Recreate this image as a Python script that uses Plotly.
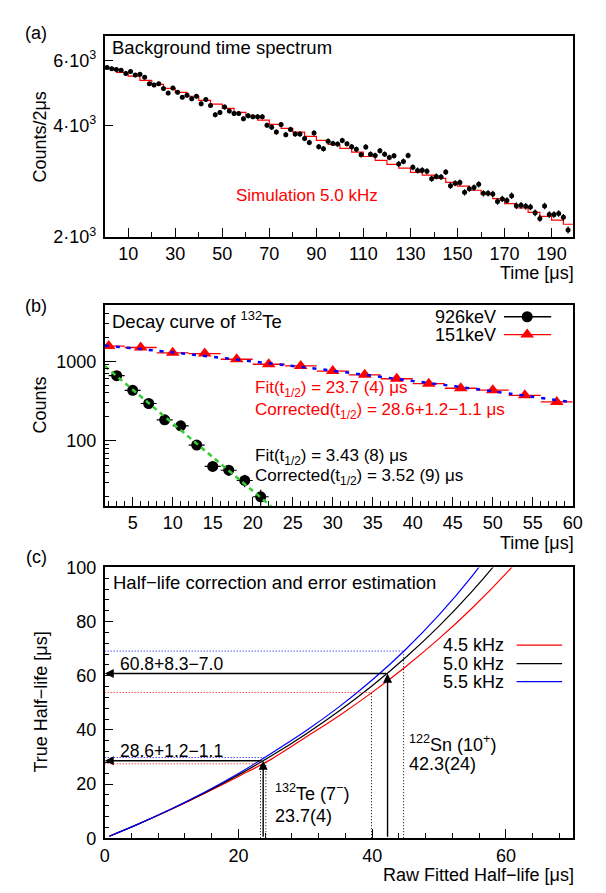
import math
import plotly.graph_objects as go

W, H = 606, 893
FONT = "Liberation Sans, Arial, Helvetica, sans-serif"
FS = 18

# ---------------- panel (a): background time spectrum ----------------
time_a = list(range(1, 198, 2))          # bin centres, 2 us bins
counts_a = [
    5740, 5700, 5670, 5645, 5530, 5600, 5475, 5500, 5400, 5185,
    5145, 5185, 5040, 4900, 5050, 4920, 4770, 4830, 4725, 4800,
    4580, 4705, 4535, 4280, 4340, 4490, 4380, 4310, 4310, 4175,
    4250, 4225, 4225, 4225, 4010, 3960, 3840, 4025, 3780, 3905,
    3795, 3795, 3690, 3600, 3820, 3505, 3465, 3630, 3580, 3565,
    3645,
    3570, 3505, 3450, 3335, 3500, 3345, 3320, 3420, 3345, 3280,
    3315, 3150, 3200, 3320, 3085, 3025, 3030, 3010, 2875, 2915,
    2905, 2995, 2750, 2795, 2805, 2640, 2700, 2720, 2775, 2625,
    2625, 2615, 2495, 2535, 2510, 2585, 2430, 2435, 2420, 2410,
    2325, 2245, 2425, 2300, 2300, 2315, 2260, 2090,
]
sim_edges = list(range(0, 201, 5))       # simulation histogram edges
sim_a = [
    5710, 5570, 5440, 5300, 5170, 5040, 4920, 4800, 4680, 4570,
    4450, 4340, 4240, 4140, 4030, 3930, 3840, 3740, 3650, 3560,
    3470, 3390, 3300, 3220, 3140, 3070, 2990, 2940, 2880, 2810,
    2745, 2675, 2610, 2540, 2460, 2395, 2330, 2275, 2220, 2165,
]
a_yticks = [2000, 4000, 6000]
a_yticktext = ["2·10<sup>3</sup>", "4·10<sup>3</sup>", "6·10<sup>3</sup>"]

# ---------------- panel (b): decay curves ----------------
t926 = [3, 5, 7, 9, 11, 13, 15, 17, 19, 21]
c926 = [658, 432, 295, 184, 155, 89, 48, 43, 32, 20]
t151 = list(range(2, 59, 4))
c151 = [1545, 1485, 1275, 1245, 1058, 915, 872, 752, 675, 603, 523, 458, 433, 373, 309]
fit926_t = [1.5, 22.5]
fit926_c = [870, 14.6]
fit151_t = [1.5, 10, 20, 30, 40, 50, 60]
fit151_c = [1570, 1290, 995, 760, 565, 420, 305]
b_minor = [20, 30, 40, 50, 60, 70, 80, 90, 200, 300, 400, 500, 600, 700, 800, 900,
           2000, 3000, 4000, 5000]
b_series = ["926keV", "151keV"]

# ---------------- panel (c): correction curves ----------------
raw_x = [0.7, 5, 10, 15, 20, 25, 30, 35, 40, 45, 50, 55, 60, 65]
true_45 = [0.75, 5.17, 10.69, 16.6, 22.8, 29.3, 37.17, 45.16, 53.85, 63.33, 73.69, 85.1, 97.7, 111.7]
true_50 = [0.75, 5.19, 10.78, 16.83, 23.38, 30.52, 38.31, 46.86, 56.28, 66.71, 78.31, 91.31, 105.97, 122.6]
true_55 = [0.75, 5.21, 10.85, 17.05, 23.9, 31.5, 39.5, 48.4, 58.4, 69.7, 82.5, 97.0, 113.7, 133.1]
rate_names = ["4.5 kHz", "5.0 kHz", "5.5 kHz"]
rate_colors = ["red", "black", "blue"]

iso_raw = [23.7, 42.3]
iso_raw_err = [0.4, 2.4]
iso_true = [28.6, 60.8]
iso_up = [1.2, 8.3]
iso_dn = [1.1, 7.0]
iso_name = ["<sup>132</sup>Te (7<sup>−</sup>)", "<sup>122</sup>Sn (10<sup>+</sup>)"]
iso_raw_txt = ["23.7(4)", "42.3(24)"]

# ---------------- layout geometry ----------------
XL, XR = 94, 574
A_T, A_B = 18, 224
B_T, B_B = 294, 499
C_T, C_B = 562, 839


def px(x):
    return x / W


def py(y):
    return 1 - y / H


xd = [px(XL), px(XR)]

fig = go.Figure()

# panel (a)
fig.add_trace(go.Scatter(x=sim_edges, y=sim_a + sim_a[-1:], mode="lines",
                         line=dict(color="red", width=1.2, shape="hv"),
                         xaxis="x", yaxis="y", showlegend=False))
fig.add_trace(go.Scatter(x=time_a, y=counts_a, mode="markers",
                         marker=dict(color="black", size=5),
                         error_y=dict(type="sqrt", color="black", thickness=1.2, width=0),
                         xaxis="x", yaxis="y", showlegend=False))

# panel (b)
fig.add_trace(go.Scatter(x=t151, y=c151, mode="markers",
                         marker=dict(color="red", size=12, symbol="triangle-up"),
                         error_x=dict(type="constant", value=2, color="red", thickness=1.3, width=0),
                         error_y=dict(type="sqrt", color="red", thickness=1.2, width=0),
                         xaxis="x2", yaxis="y2", showlegend=False))
fig.add_trace(go.Scatter(x=t926, y=c926, mode="markers",
                         marker=dict(color="black", size=11, symbol="circle"),
                         error_x=dict(type="constant", value=1, color="black", thickness=1.2, width=0),
                         error_y=dict(type="sqrt", color="black", thickness=1.2, width=0),
                         xaxis="x2", yaxis="y2", showlegend=False))
fig.add_trace(go.Scatter(x=fit151_t, y=fit151_c, mode="lines", line_shape="spline",
                         line=dict(color="blue", width=2.5, dash="4px,7px"),
                         xaxis="x2", yaxis="y2", showlegend=False))
fig.add_trace(go.Scatter(x=fit926_t, y=fit926_c, mode="lines",
                         line=dict(color="#33cc33", width=2.5, dash="5px,4px"),
                         xaxis="x2", yaxis="y2", showlegend=False))

shapes = []
annotations = []

# legend glyphs panel (b): text, then line with marker (ROOT style)
leg_b = [("black", "circle", 11, 3606), ("red", "triangle-up", 12, 2158)]
for name, (col, sym, msz, yv) in zip(b_series, leg_b):
    fig.add_trace(go.Scatter(x=[51.4, 57.3], y=[yv, yv], mode="lines",
                             line=dict(color=col, width=1.3),
                             xaxis="x2", yaxis="y2", showlegend=False, hoverinfo="skip"))
    fig.add_trace(go.Scatter(x=[54.3], y=[yv], mode="markers",
                             marker=dict(color=col, size=msz, symbol=sym),
                             xaxis="x2", yaxis="y2", showlegend=False, hoverinfo="skip"))
    annotations.append(dict(xref="x2", yref="y2", x=50.5, y=math.log10(yv), text=name,
                            showarrow=False, xanchor="right", yanchor="middle",
                            borderpad=0,
                            font=dict(family=FONT, size=FS, color="black")))

# panel (c) curves
for yv, col in zip([true_45, true_50, true_55], rate_colors):
    fig.add_trace(go.Scatter(x=raw_x, y=yv, mode="lines", line_shape="spline",
                             line=dict(color=col, width=1.2),
                             xaxis="x3", yaxis="y3", showlegend=False))

# panel (c) guide lines and arrows
for i in range(len(iso_raw)):
    r, re_, t, up, dn = iso_raw[i], iso_raw_err[i], iso_true[i], iso_up[i], iso_dn[i]
    dot = dict(width=1, dash="1px,2px")
    shapes += [
        dict(type="line", xref="x3", yref="y3", x0=0, x1=r + re_, y0=t + up, y1=t + up,
             line=dict(color="blue", **dot)),
        dict(type="line", xref="x3", yref="y3", x0=0, x1=r - re_, y0=t - dn, y1=t - dn,
             line=dict(color="red", **dot)),
        dict(type="line", xref="x3", yref="y3", x0=r - re_, x1=r - re_, y0=0, y1=t - dn,
             line=dict(color="black", **dot)),
        dict(type="line", xref="x3", yref="y3", x0=r + re_, x1=r + re_, y0=0, y1=t + up,
             line=dict(color="black", **dot)),
    ]
    annotations.append(dict(xref="x3", yref="y3", axref="x3", ayref="y3",
                            x=r, y=t, ax=r, ay=0, text="", showarrow=True,
                            arrowhead=2, arrowsize=1.3, arrowwidth=1.4, arrowcolor="black"))
    annotations.append(dict(xref="x3", yref="y3", axref="x3", ayref="y3",
                            x=0, y=t, ax=r, ay=t, text="", showarrow=True,
                            arrowhead=2, arrowsize=1.3, arrowwidth=1.4, arrowcolor="black"))
    annotations.append(dict(xref="x3", yref="y3", x=2.0, y=t + 3.6,
                            text=f"{t}+{up}−{dn}", showarrow=False,
                            xanchor="left", yanchor="middle",
                            font=dict(family=FONT, size=17.5, color="black")))

iso_pos = [(25.1, 17.0, 8.1), (45.2, 35.0, 27.4)]
for i, (xl, y1, y2) in enumerate(iso_pos):
    annotations.append(dict(xref="x3", yref="y3", x=xl, y=y1, text=iso_name[i],
                            showarrow=False, xanchor="left", yanchor="middle",
                            font=dict(family=FONT, size=FS, color="black")))
    annotations.append(dict(xref="x3", yref="y3", x=xl, y=y2, text=iso_raw_txt[i],
                            showarrow=False, xanchor="left", yanchor="middle",
                            font=dict(family=FONT, size=FS, color="black")))

# legend panel (c)
for name, col, yv in zip(rate_names, rate_colors, [71.3, 64.5, 57.8]):
    shapes.append(dict(type="line", xref="x3", yref="y3", x0=61.6, x1=68.4, y0=yv, y1=yv,
                       line=dict(color=col, width=1.2)))
    annotations.append(dict(xref="x3", yref="y3", x=59.8, y=yv, text=name, showarrow=False,
                            xanchor="right", yanchor="middle", borderpad=0,
                            font=dict(family=FONT, size=FS, color="black")))


def ptext(x, y, text, anchor="left", color="black", size=FS, angle=0):
    annotations.append(dict(xref="paper", yref="paper", x=px(x), y=py(y), text=text,
                            showarrow=False, xanchor=anchor, yanchor="middle",
                            textangle=angle,
                            font=dict(family=FONT, size=size, color=color)))


ptext(24, 15, "(a)", "center")
ptext(24, 295, "(b)", "center")
ptext(24, 551, "(c)", "center")
ptext(99, 30, "Background time spectrum", size=18.5)
ptext(99, 309, "Decay curve of <sup>132</sup>Te", size=18.5)
ptext(100, 577, "Half−life correction and error estimation", size=18.5)
ptext(28, 122, "Counts/2μs", "center", angle=-90)
ptext(28, 396, "Counts", "center", angle=-90)
ptext(29, 700, "True Half−life [μs]", "center", angle=-90)
ptext(XR + 3, 261, "Time [μs]", "right")
ptext(XR + 3, 537, "Time [μs]", "right")
ptext(XR + 3, 877, "Raw Fitted Half−life [μs]", "right")

annotations.append(dict(xref="x", yref="y", x=54.9, y=math.log10(2590), text="Simulation 5.0 kHz",
                        showarrow=False, xanchor="left", yanchor="middle",
                        font=dict(family=FONT, size=17, color="red")))
b_texts = [
    (442, "Fit(t<sub>1/2</sub>) = 23.7 (4) μs", "red"),
    (240, "Corrected(t<sub>1/2</sub>) = 28.6+1.2−1.1 μs", "red"),
    (62.5, "Fit(t<sub>1/2</sub>) = 3.43 (8) μs", "black"),
    (35.6, "Corrected(t<sub>1/2</sub>) = 3.52 (9) μs", "black"),
]
for yv, txt, col in b_texts:
    annotations.append(dict(xref="x2", yref="y2", x=20.0, y=math.log10(yv), text=txt,
                            showarrow=False, xanchor="left", yanchor="middle",
                            font=dict(family=FONT, size=17, color=col)))


def axis(**kw):
    base = dict(showline=True, linecolor="black", linewidth=1.5, mirror=True,
                ticks="inside", tickcolor="black", tickwidth=1, ticklen=9,
                showgrid=False, zeroline=False,
                tickfont=dict(family=FONT, size=FS, color="black"))
    base.update(kw)
    return base


minor_style = dict(ticks="inside", ticklen=5, tickcolor="black", tickwidth=1, showgrid=False)

fig.update_layout(
    width=W, height=H, margin=dict(l=0, r=0, t=0, b=0),
    paper_bgcolor="white", plot_bgcolor="white", showlegend=False,
    font=dict(family=FONT, size=FS, color="black"),
    xaxis=axis(domain=xd, anchor="y", range=[0, 199], tickmode="array",
               tickvals=list(range(10, 191, 20)),
               minor=dict(dtick=10, tick0=0, **minor_style)),
    yaxis=axis(domain=[py(A_B), py(A_T)], anchor="x", type="log",
               range=[math.log10(2000), math.log10(7000)], tickmode="array",
               tickvals=a_yticks, ticktext=a_yticktext, ticklabelstandoff=3),
    xaxis2=axis(domain=xd, anchor="y2", range=[1.5, 60], tickmode="array",
                tickvals=list(range(5, 61, 5)),
                minor=dict(dtick=1, tick0=0, **minor_style)),
    yaxis2=axis(domain=[py(B_B), py(B_T)], anchor="x2", type="log",
                range=[math.log10(15.4), math.log10(5000)], tickmode="array",
                tickvals=[100, 1000], ticktext=["100", "1000"], ticklen=12,
                ticklabelstandoff=3,
                minor=dict(tickmode="array", tickvals=b_minor, **minor_style)),
    xaxis3=axis(domain=xd, anchor="y3", range=[0, 70], tickmode="array",
                tickvals=[0, 20, 40, 60],
                minor=dict(dtick=4, tick0=0, **minor_style)),
    yaxis3=axis(domain=[py(C_B), py(C_T)], anchor="x3", range=[0, 100], tickmode="array",
                tickvals=list(range(0, 101, 20)), ticklabelstandoff=3,
                minor=dict(dtick=4, tick0=0, **minor_style)),
    shapes=shapes,
    annotations=annotations,
)

fig.write_html("out.html")
